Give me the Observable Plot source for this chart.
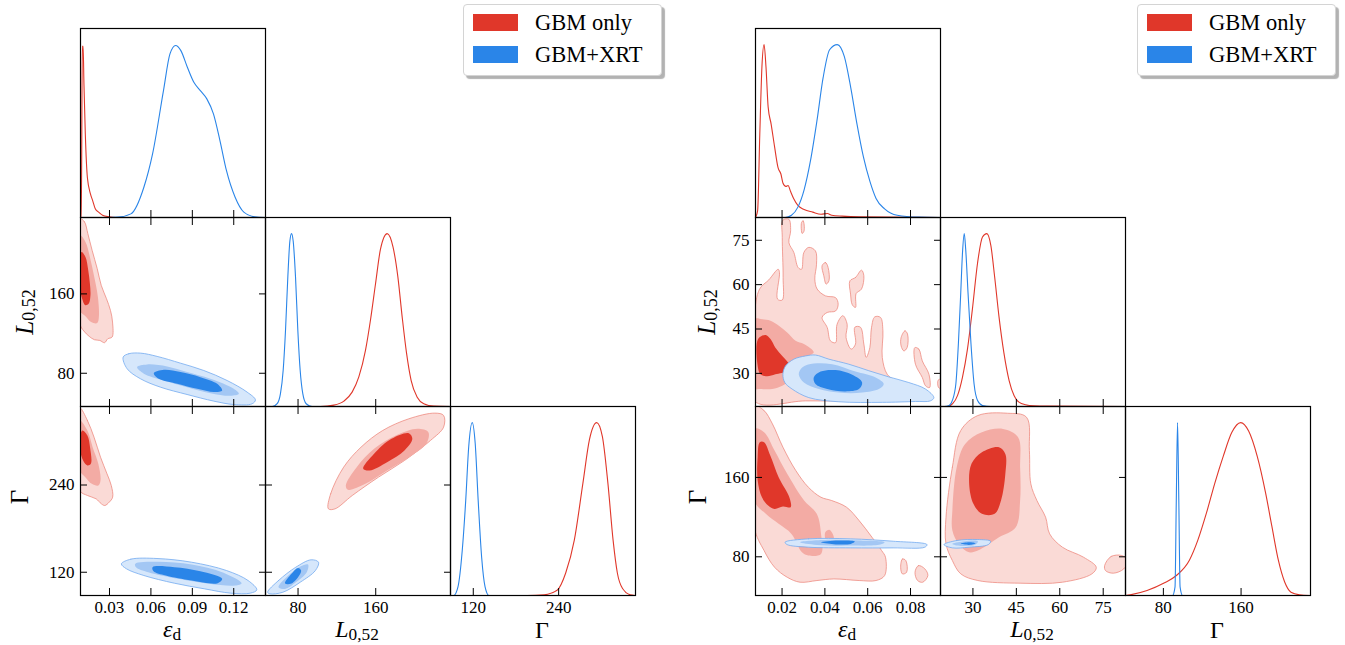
<!DOCTYPE html>
<html><head><meta charset="utf-8">
<script src="https://cdn.jsdelivr.net/npm/d3@7"></script>
<script src="https://cdn.jsdelivr.net/npm/@observablehq/plot@0.6"></script>
<style>
body{margin:0;background:#fff;}
#root{position:relative;width:1345px;height:645px;overflow:hidden;background:#fff;font-family:'Liberation Serif','DejaVu Serif',serif;}
.panel{position:absolute;width:285px;height:289px;}
.panel svg{overflow:visible;display:block;max-width:none !important;width:285px;height:289px;}
.lab{position:absolute;font-size:24px;white-space:nowrap;transform:translate(-50%,-50%);line-height:1;}
.lab sub{font-style:normal;font-size:0.72em;vertical-align:-0.15em;line-height:0;}
.lab.rot{transform:translate(-50%,-50%) rotate(-90deg);font-size:25px;}
.legend{position:absolute;top:4px;width:197px;height:70px;background:#fff;border:1px solid #d4d4d4;border-radius:4px;box-shadow:3px 3px 1px rgba(0,0,0,0.3);}
.legend .sw{position:absolute;left:9px;width:45px;height:17px;}
.legend .tx{position:absolute;left:71px;font-size:22.5px;line-height:22px;}
</style>
</head><body>
<div id="root"></div>
<script>
// ---------- series labels ----------
const seriesNames = ["GBM only", "GBM+XRT"];

// ---------- axis ranges and ticks (left corner plot) ----------
const leftEpsRange = [0.009, 0.143];
const leftLRange = [46.5, 237];
const leftGRange = [88, 348];
const leftEpsTicks = [0.03, 0.06, 0.09, 0.12];
const leftLTicks = [80, 160];
const leftGTicks = [120, 240];

// ---------- axis ranges and ticks (right corner plot) ----------
const rightEpsRange = [0.0076, 0.094];
const rightLRange = [18.8, 82.7];
const rightGRange = [41, 231.5];
const rightEpsTicks = [0.02, 0.04, 0.06, 0.08];
const rightLTicks = [30, 45, 60, 75];
const rightGTicks = [80, 160];

// ---------- 1D marginals (value, normalised density) ----------
const leftEpsRed = [[0.0090,0],[0.0096,0],[0.0103,0.99],[0.0109,0.99],[0.0115,0.77],[0.0125,0.48],[0.0140,0.23],[0.0162,0.137],[0.0178,0.098],[0.0197,0.05],[0.0219,0.032],[0.0250,0.013],[0.0298,0.004],[0.0345,0],[0.143,0]];
const leftEpsBlue = [[0.009,0],[0.0298,0],[0.0361,0.002],[0.0455,0.021],[0.0549,0.175],[0.0612,0.368],[0.0691,0.734],[0.0738,0.946],[0.0779,0.995],[0.0817,0.965],[0.0864,0.869],[0.0911,0.782],[0.0958,0.734],[0.1005,0.686],[0.1053,0.599],[0.110,0.445],[0.1147,0.272],[0.121,0.117],[0.1273,0.031],[0.1352,0.004],[0.143,0]];
const leftLBlue = [[46.5,0],[53.4,0],[58.5,0.016],[61.9,0.074],[64.7,0.21],[67.1,0.44],[69.5,0.75],[71.6,0.957],[73.3,1],[75.0,0.957],[77.4,0.75],[79.8,0.44],[82.2,0.21],[84.9,0.074],[88.4,0.016],[94.5,0],[237,0]];
const leftLRed = [[46.5,0],[103.1,0],[116.9,0.008],[127.2,0.031],[135.7,0.083],[142.6,0.171],[149.5,0.326],[154.6,0.5],[159.8,0.71],[164.9,0.91],[171.8,1],[177.9,0.92],[182.8,0.75],[187.2,0.52],[191.7,0.31],[196.5,0.15],[202.7,0.054],[209.5,0.016],[219.8,0.002],[237,0]];
const leftGBlue = [[88,0],[92.4,0],[98.5,0.05],[104.5,0.26],[109.4,0.55],[113.6,0.86],[118.5,1],[122.7,0.88],[126.9,0.55],[131.8,0.22],[136.6,0.05],[142.1,0],[348,0]];
const leftGRed = [[88,0],[195.4,0],[219.6,0.004],[237.8,0.03],[249.9,0.13],[262,0.32],[274.1,0.65],[283.2,0.9],[293.5,1],[301.4,0.92],[309.2,0.65],[316.5,0.32],[322.5,0.13],[329.8,0.04],[340.7,0.004],[348,0]];

const rightEpsRed = [[0.0076,0],[0.0086,0.04],[0.0096,0.48],[0.0106,0.87],[0.0116,1.0],[0.0125,0.87],[0.0135,0.64],[0.0149,0.54],[0.0165,0.41],[0.0181,0.29],[0.0195,0.25],[0.0204,0.2],[0.0218,0.18],[0.0228,0.185],[0.0240,0.15],[0.0254,0.11],[0.0274,0.07],[0.0303,0.046],[0.0343,0.031],[0.0382,0.019],[0.0412,0.023],[0.0432,0.013],[0.0481,0.008],[0.056,0.004],[0.094,0]];
const rightEpsBlue = [[0.0076,0],[0.0214,0],[0.0244,0.013],[0.0274,0.06],[0.0303,0.16],[0.0333,0.33],[0.0363,0.56],[0.0392,0.81],[0.0422,0.97],[0.0458,1.0],[0.0491,0.93],[0.0521,0.75],[0.0550,0.54],[0.0580,0.35],[0.0610,0.21],[0.0639,0.11],[0.0679,0.05],[0.0738,0.013],[0.0837,0.002],[0.094,0]];
const rightLBlue = [[18.8,0],[20.1,0],[21.8,0.006],[22.9,0.035],[24.1,0.13],[25,0.37],[25.8,0.66],[26.4,0.89],[27,1],[27.5,0.91],[28.3,0.66],[29.3,0.37],[30.4,0.13],[31.6,0.035],[33.3,0.006],[36.2,0],[82.7,0]];
const rightLRed = [[18.8,0],[21.2,0],[23,0.016],[24.7,0.064],[26.4,0.17],[28.1,0.33],[29.8,0.56],[31.6,0.83],[33.3,0.98],[34.8,1],[36.2,0.93],[37.5,0.75],[39,0.52],[40.7,0.31],[42.5,0.15],[44.2,0.064],[45.9,0.025],[48.2,0.01],[51.1,0.004],[55.7,0.002],[82.7,0]];
const rightGBlue = [[41,0],[89.4,0],[92,0.05],[93.3,0.55],[94.6,1],[95.9,0.55],[97.2,0.05],[99.8,0],[231.5,0]];
const rightGRed = [[41,0],[45.8,0.004],[63.2,0.029],[80.7,0.072],[93.7,0.117],[106.8,0.204],[115.5,0.32],[124.3,0.476],[133,0.65],[141.7,0.806],[150.4,0.942],[159.6,1],[167.8,0.951],[176.6,0.806],[185.3,0.592],[191.8,0.398],[198.4,0.204],[204.9,0.078],[211.4,0.019],[220.2,0.004],[231.5,0]];

// ---------- 2D credible regions (level 0 = outer, 1 = middle, 2 = inner) ----------
const leftEpsLRed = [
 {level:0, pts:[[0.0085,236],[0.0119,232.6],[0.0143,220.8],[0.0174,204],[0.0211,185.5],[0.024,168.7],[0.0278,155.2],[0.0307,143.4],[0.0322,131.6],[0.0319,116.5],[0.0288,114.8],[0.0264,110.8],[0.023,113.1],[0.0191,113.8],[0.0153,117.2],[0.0114,122.6],[0.0085,130]]},
 {level:1, pts:[[0.0085,219.2],[0.0126,212.4],[0.0158,197.3],[0.0187,178.8],[0.0216,156.9],[0.0223,136.7],[0.0211,130.6],[0.0167,131.6],[0.0126,137.4],[0.0085,143.4]]},
 {level:2, pts:[[0.0097,202.3],[0.0126,197.3],[0.0146,183.8],[0.0158,170.4],[0.0162,158.6],[0.015,150.2],[0.0126,148.5],[0.0102,155.2],[0.0085,167]]}
];
const leftEpsLBlue = [
 {level:0, pts:[[0.0399,96.3],[0.044,99.7],[0.0525,100.3],[0.0645,97],[0.0814,90.2],[0.0983,82.8],[0.1152,72.7],[0.1297,61],[0.1357,53.2],[0.1333,49.2],[0.12,48.5],[0.1056,51.9],[0.0862,58.6],[0.0669,66],[0.0525,74.4],[0.0428,84.5]]},
 {level:1, pts:[[0.05,86.2],[0.0573,88.9],[0.0718,86.9],[0.0862,81.2],[0.1031,74.4],[0.12,64.3],[0.1237,59.3],[0.1176,57.3],[0.1031,59.9],[0.0862,66],[0.0694,72.7],[0.0549,79.5]]},
 {level:2, pts:[[0.0621,80.1],[0.0694,83.5],[0.0814,81.2],[0.0959,76.1],[0.108,69.4],[0.1116,62.6],[0.1056,61],[0.0935,64.3],[0.079,69.4],[0.0657,74.4]]}
];
const leftEpsGRed = [
 {level:0, pts:[[0.0085,346],[0.014,328.8],[0.0188,305.8],[0.0235,278.3],[0.0282,255.4],[0.0313,239.3],[0.0323,223.3],[0.0298,216.4],[0.0266,211.8],[0.0241,214.1],[0.0203,221],[0.014,225.6],[0.0085,232.4]]},
 {level:1, pts:[[0.0085,328.8],[0.014,315],[0.0178,292.1],[0.0219,269.1],[0.0235,246.2],[0.0219,239.3],[0.0172,241.6],[0.0125,250.8],[0.0085,260]]},
 {level:2, pts:[[0.0103,315],[0.014,308.1],[0.0159,292.1],[0.0165,269.1],[0.014,266.9],[0.0109,273.7],[0.0085,292.1]]}
];
const leftEpsGBlue = [
 {level:0, pts:[[0.0386,131.5],[0.0455,138],[0.0644,138.9],[0.0895,133.8],[0.1147,122.4],[0.1304,108.6],[0.1367,95.8],[0.132,91.2],[0.1179,91.2],[0.099,97.1],[0.077,104.9],[0.0549,115.5],[0.0423,124.7]]},
 {level:1, pts:[[0.0486,131.5],[0.0644,134.3],[0.0895,130.6],[0.1116,120.1],[0.1257,104.9],[0.121,101.7],[0.1021,104],[0.0801,110.9],[0.0581,120.1],[0.0492,127]]},
 {level:2, pts:[[0.0612,127],[0.077,127],[0.0958,121.4],[0.1116,110.9],[0.1084,104.9],[0.0895,108.6],[0.0707,115.5],[0.0619,121.4]]}
];
const leftLGRed = [
 {level:0, pts:[[111.3,207.2],[113.6,227.9],[127,264.6],[144.9,292.1],[167.2,315],[194.1,331.1],[220.9,338.9],[229.9,335.7],[229.9,319.6],[216.4,301.3],[189.6,273.7],[162.8,250.8],[135.9,225.6],[118.1,207.2]]},
 {level:1, pts:[[129.2,239.3],[140.4,264.6],[158.3,289.8],[180.7,308.1],[203,317.3],[214.2,312.7],[212,296.7],[194.1,278.3],[171.7,260],[149.4,241.6],[131.5,233.4]]},
 {level:2, pts:[[147.1,262.3],[158.3,282.9],[176.2,303.5],[194.1,311.3],[197.7,303.5],[189.6,287.5],[171.7,271.4],[153.8,260]]}
];
const leftLGBlue = [
 {level:0, pts:[[48.7,92.5],[59.9,108.6],[77.8,127],[93.5,137.1],[101.1,133.8],[97.9,122.4],[82.3,106.3],[64.4,92.5],[51,90.3]]},
 {level:1, pts:[[59.9,99.4],[68.9,114.1],[82.3,127.9],[90.3,130.6],[89,120.1],[77.8,106.3],[66.6,97.1]]},
 {level:2, pts:[[66.6,104.9],[73.3,117.8],[80,126],[83.2,122.4],[80,113.2],[72.4,104]]}
];

const rightEpsLRed = [
 {level:0, pts:[[0.007,20.7],[0.007,48.9],[0.0095,58.5],[0.0138,61.6],[0.0182,65.2],[0.0188,64.1],[0.0179,55.1],[0.0201,54.8],[0.0205,62.4],[0.0201,75.9],[0.0204,81.8],[0.0232,82.1],[0.024,78.2],[0.0232,74.2],[0.0255,70.9],[0.0275,65.8],[0.0291,65.2],[0.0302,70.9],[0.0325,72.6],[0.0356,71.4],[0.0361,66.9],[0.0353,61.9],[0.0364,58.5],[0.0403,56.2],[0.045,55.6],[0.0462,53.4],[0.045,51.1],[0.0411,50.6],[0.0387,48.9],[0.0411,45.5],[0.0426,41],[0.045,40.4],[0.0457,46.6],[0.0484,49.5],[0.0504,46.6],[0.0499,42.1],[0.0523,38.2],[0.0543,39.9],[0.054,45.6],[0.0566,45.6],[0.0582,39.9],[0.0593,35.4],[0.061,38.7],[0.0618,45.6],[0.0633,49.1],[0.066,48.9],[0.0671,44.4],[0.0668,35.4],[0.0691,29.7],[0.073,27.5],[0.08,24.7],[0.0761,21.3],[0.059,20.7],[0.031,20.7]]},
 {level:0, pts:[[0.0517,61.3],[0.0543,62.4],[0.0571,64.9],[0.0582,63],[0.0571,58.5],[0.0546,57],[0.0543,52.3],[0.0528,53.2],[0.052,56.8]]},
 {level:0, pts:[[0.0387,66.4],[0.0403,67.5],[0.0415,65.8],[0.0419,61.3],[0.0406,60.2],[0.0395,63]]},
 {level:0, pts:[[0.0291,81],[0.0299,81.6],[0.0303,78.2],[0.0294,77.3]]},
 {level:0, pts:[[0.0756,42.1],[0.0774,44.4],[0.0786,43.3],[0.0784,38.7],[0.0769,37.6],[0.0756,39.3]]},
 {level:0, pts:[[0.082,38.7],[0.0839,38.2],[0.0855,34.2],[0.0886,29.7],[0.0889,25.2],[0.087,25.8],[0.0855,28.6],[0.0823,33.1]]},
 {level:0, pts:[[0.0758,26.9],[0.0769,26.4],[0.0769,23.5],[0.0758,24.1]]},
 {level:0, pts:[[0.0929,27.7],[0.0942,28],[0.0942,25],[0.0931,25.2]]},
 {level:1, pts:[[0.007,48.3],[0.0107,48.3],[0.0146,47.8],[0.0185,46.1],[0.0224,43.8],[0.0263,41],[0.0302,39.9],[0.0348,37.1],[0.031,35.4],[0.0263,33.1],[0.0247,29.7],[0.0232,27.5],[0.0201,25.8],[0.0154,24.7],[0.0092,24.7],[0.007,24.7]]},
 {level:2, pts:[[0.0088,41.6],[0.0123,43],[0.0146,41.6],[0.0169,38.7],[0.0201,35.9],[0.0232,33.1],[0.0224,30.9],[0.0169,29.7],[0.013,29],[0.0099,29.7],[0.0085,33.1]]}
];
const rightEpsLBlue = [
 {level:0, pts:[[0.0204,29.7],[0.0216,32.5],[0.0255,34.8],[0.031,35.9],[0.0356,36.2],[0.0419,34.8],[0.0512,33.1],[0.0605,30.9],[0.0699,28.8],[0.0792,26.9],[0.087,24.7],[0.0909,21.8],[0.0893,20.7],[0.0823,20.5],[0.0668,20.2],[0.0465,20.4],[0.0325,21.8],[0.0247,24.7],[0.0213,26.9]]},
 {level:1, pts:[[0.0278,29.7],[0.0294,32],[0.0348,33.3],[0.0434,33.1],[0.0543,30.6],[0.0637,28.6],[0.0675,26.4],[0.0652,24.7],[0.0574,23.5],[0.0465,23.5],[0.0372,24.7],[0.0302,26.9]]},
 {level:2, pts:[[0.0348,28.6],[0.038,30.6],[0.045,31.1],[0.0528,29.5],[0.0574,26.9],[0.0559,24.7],[0.0496,23.9],[0.0411,24.7],[0.0356,26.4]]}
];
const rightEpsGRed = [
 {level:0, pts:[[0.007,232],[0.0116,227.4],[0.0155,214],[0.0204,190.5],[0.0264,167],[0.0323,150.1],[0.0382,140],[0.0432,136.7],[0.0501,130],[0.056,116.5],[0.062,99.7],[0.0665,86.3],[0.0683,79.6],[0.0679,61.1],[0.0639,56.1],[0.056,56.1],[0.0442,57.7],[0.0363,56.1],[0.0284,54.4],[0.0224,59.4],[0.0165,69.5],[0.0116,86.3],[0.007,109.8]]},
 {level:0, pts:[[0.0754,69.5],[0.0762,77.9],[0.0778,76.2],[0.0782,64.5],[0.0762,62.8]]},
 {level:0, pts:[[0.0821,64.5],[0.0837,71.2],[0.0867,67.8],[0.0881,61.1],[0.0857,54.4],[0.0833,56.1]]},
 {level:1, pts:[[0.007,208.9],[0.0116,205.6],[0.0165,187.1],[0.0224,163.6],[0.0303,136.7],[0.0362,123.3],[0.0382,103.1],[0.0382,82.9],[0.0323,81.3],[0.0293,84.6],[0.0244,103.1],[0.0184,113.2],[0.0124,123.3],[0.007,136.7]]},
 {level:1, pts:[[0.0402,104.8],[0.0422,107.1],[0.0442,99.7],[0.0432,94.7],[0.0406,96.4]]},
 {level:2, pts:[[0.0096,195.5],[0.0116,195.5],[0.0145,182.1],[0.0184,160.2],[0.0234,140],[0.024,130],[0.0204,130.7],[0.0165,128.3],[0.0135,131.7],[0.0106,140],[0.0086,156.9],[0.0086,180.4]]}
];
const rightEpsGBlue = [
 {level:0, pts:[[0.0214,94.7],[0.0323,98.1],[0.0521,98.1],[0.0719,95.7],[0.0877,92.3],[0.0867,89.7],[0.0719,89],[0.0521,89],[0.0323,89.7],[0.0224,92.3]]},
 {level:1, pts:[[0.0284,94.7],[0.0422,97.1],[0.056,96.4],[0.0679,94.7],[0.0659,92.3],[0.0521,91.3],[0.0363,92]]},
 {level:2, pts:[[0.0382,94.7],[0.0461,96.4],[0.054,95.4],[0.0521,93],[0.0441,92.7]]}
];
const rightLGRed = [
 {level:0, pts:[[20.7,119.9],[22.9,170.3],[25.8,207.3],[31.7,222.4],[41.9,224.7],[48.5,220.7],[49.5,187.1],[50,153.5],[52.1,136.7],[55.1,119.9],[56.5,103.1],[60.9,89.7],[68.2,79.6],[72.6,69.5],[71.1,62.8],[60.9,54.4],[46.3,53.4],[31.7,56.1],[25.8,62.8],[22.9,76.2],[20.7,93]]},
 {level:0, pts:[[75.5,71.2],[77.7,80.3],[81.4,81.3],[83.5,76.2],[82.1,67.8],[78.5,63.5],[75.8,66.1]]},
 {level:1, pts:[[22.9,126.6],[24.4,170.3],[27.3,193.8],[33.1,205.6],[40.4,208.9],[45.6,200.5],[46.3,170.3],[46.3,136.7],[44.8,109.8],[39,99.7],[31.7,86.3],[28.7,84.6],[25.1,93],[22.9,106.5]]},
 {level:2, pts:[[28.7,153.5],[29.5,173.7],[33.1,185.4],[39,190.5],[41.2,183.7],[41.2,163.6],[39.7,136.7],[37.5,123.3],[33.1,123.3],[30.2,133.3]]}
];
const rightLGBlue = [
 {level:0, pts:[[20,92.3],[24.4,96.4],[31.7,97.4],[36.1,95.7],[35.3,92.3],[28.7,89.7],[22.9,89]]},
 {level:1, pts:[[22.9,93],[26.5,95.4],[31.7,95.7],[30.9,92.3],[25.8,91]]},
 {level:2, pts:[[25.8,93.4],[28.7,94.7],[30.9,93.7],[28.7,92]]}
];

// ---------- styling ----------
const RED = "#e0372a", BLUE = "#2a85e8";
const redFills = ["#fadad6", "#f3aba4", "#e0372a"];
const blueFills = ["#d6e7fb", "#a3c7f4", "#2a85e8"];
const redEdge = "#ee8b81", blueEdge = "#74abf0";
const FONT = "'Liberation Serif','DejaVu Serif',serif";
const M = 50, PW = 185, PH = 189;
const densRange = [0, 1.093];
const root = document.getElementById("root");

function margMarks(red, blue) {
  return [
    Plot.line(red, {x: d => d[0], y: d => d[1], stroke: RED, strokeWidth: 1.1, curve: "monotone-x", clip: true}),
    Plot.line(blue, {x: d => d[0], y: d => d[1], stroke: BLUE, strokeWidth: 1.1, curve: "monotone-x", clip: true})
  ];
}
function contourMarks(polys, fills, edge) {
  return polys.map(p => Plot.line(p.pts, {
    x: d => d[0], y: d => d[1], fill: fills[p.level],
    stroke: p.level === 0 ? edge : "none", strokeWidth: 0.8,
    curve: "catmull-rom-closed", clip: true
  }));
}
function addPanel(left, top, marks, o) {
  const axes = [];
  const noText = () => "";
  axes.push(Plot.axisX(o.xTicks, {anchor: "bottom", tickSize: 7, dy: -7, tickFormat: noText, label: null}));
  if (o.twoD) {
    axes.push(Plot.axisX(o.xTicks, {anchor: "top", tickSize: 7, dy: 7, tickFormat: noText, label: null}));
    axes.push(Plot.axisY(o.yTicks, {anchor: "left", tickSize: 7, dx: 7, tickFormat: noText, label: null}));
    axes.push(Plot.axisY(o.yTicks, {anchor: "right", tickSize: 7, dx: -7, tickFormat: noText, label: null}));
  }
  if (o.xLabels) axes.push(Plot.axisX(o.xTicks, {anchor: "bottom", tickSize: 0, tickPadding: 5, tickFormat: d => String(d), label: null, fontSize: 17}));
  if (o.yLabels) axes.push(Plot.axisY(o.yTicks, {anchor: "left", tickSize: 0, tickPadding: 6, tickFormat: d => String(d), label: null, fontSize: 17}));
  const svg = Plot.plot({
    width: PW + 2 * M, height: PH + 2 * M, margin: M,
    x: {domain: o.xDomain, axis: null},
    y: {domain: o.yDomain, axis: null},
    style: {background: "transparent", overflow: "visible", fontFamily: FONT, fontSize: "17px", color: "black", maxWidth: "none"},
    marks: [...marks, Plot.frame({stroke: "black", strokeWidth: 1.2}), ...axes]
  });
  const div = document.createElement("div");
  div.className = "panel";
  div.style.left = (left - M) + "px";
  div.style.top = (top - M) + "px";
  div.appendChild(svg);
  root.appendChild(div);
}

function corner(cols, rows, R, T, D) {
  addPanel(cols[0], rows[0], margMarks(D.epsRed, D.epsBlue), {xDomain: R[0], yDomain: densRange, xTicks: T[0]});
  addPanel(cols[1], rows[1], margMarks(D.LRed, D.LBlue), {xDomain: R[1], yDomain: densRange, xTicks: T[1]});
  addPanel(cols[2], rows[2], margMarks(D.GRed, D.GBlue), {xDomain: R[2], yDomain: densRange, xTicks: T[2], xLabels: true});
  addPanel(cols[0], rows[1], [...contourMarks(D.epsLRed, redFills, redEdge), ...contourMarks(D.epsLBlue, blueFills, blueEdge)],
    {xDomain: R[0], yDomain: R[1], xTicks: T[0], yTicks: T[1], twoD: true, yLabels: true});
  addPanel(cols[0], rows[2], [...contourMarks(D.epsGRed, redFills, redEdge), ...contourMarks(D.epsGBlue, blueFills, blueEdge)],
    {xDomain: R[0], yDomain: R[2], xTicks: T[0], yTicks: T[2], twoD: true, xLabels: true, yLabels: true});
  addPanel(cols[1], rows[2], [...contourMarks(D.LGRed, redFills, redEdge), ...contourMarks(D.LGBlue, blueFills, blueEdge)],
    {xDomain: R[1], yDomain: R[2], xTicks: T[1], yTicks: T[2], twoD: true, xLabels: true});
}

const rowsY = [28, 217, 406];
corner([80, 265, 450], rowsY, [leftEpsRange, leftLRange, leftGRange], [leftEpsTicks, leftLTicks, leftGTicks], {
  epsRed: leftEpsRed, epsBlue: leftEpsBlue, LRed: leftLRed, LBlue: leftLBlue, GRed: leftGRed, GBlue: leftGBlue,
  epsLRed: leftEpsLRed, epsLBlue: leftEpsLBlue, epsGRed: leftEpsGRed, epsGBlue: leftEpsGBlue, LGRed: leftLGRed, LGBlue: leftLGBlue
});
corner([755, 940, 1125], rowsY, [rightEpsRange, rightLRange, rightGRange], [rightEpsTicks, rightLTicks, rightGTicks], {
  epsRed: rightEpsRed, epsBlue: rightEpsBlue, LRed: rightLRed, LBlue: rightLBlue, GRed: rightGRed, GBlue: rightGBlue,
  epsLRed: rightEpsLRed, epsLBlue: rightEpsLBlue, epsGRed: rightEpsGRed, epsGBlue: rightEpsGBlue, LGRed: rightLGRed, LGBlue: rightLGBlue
});

// ---------- axis titles ----------
function lab(html, x, y, rot) {
  const d = document.createElement("div");
  d.className = "lab" + (rot ? " rot" : "");
  d.style.left = x + "px"; d.style.top = y + "px";
  d.innerHTML = html;
  root.appendChild(d);
}
const tEps = "<i>ε</i><sub>d</sub>", tL = "<i>L</i><sub>0,52</sub>", tG = "Γ";
[[172, 357, 542, 24, 19], [847, 1032, 1217, 706, 697]].forEach(([a, b, c, ly, gy]) => {
  lab(tEps, a, 628.5); lab(tL, b, 628.5); lab(tG, c, 630);
  lab(tL, ly, 312, true); lab(tG, gy, 497, true);
});

// ---------- legends ----------
[463, 1137].forEach(x => {
  const g = document.createElement("div");
  g.className = "legend"; g.style.left = x + "px";
  g.innerHTML = `<div class="sw" style="top:9px;background:${RED}"></div><div class="tx" style="top:7px">${seriesNames[0]}</div>` +
                `<div class="sw" style="top:41px;background:${BLUE}"></div><div class="tx" style="top:39px">${seriesNames[1]}</div>`;
  root.appendChild(g);
});
</script>
</body></html>
